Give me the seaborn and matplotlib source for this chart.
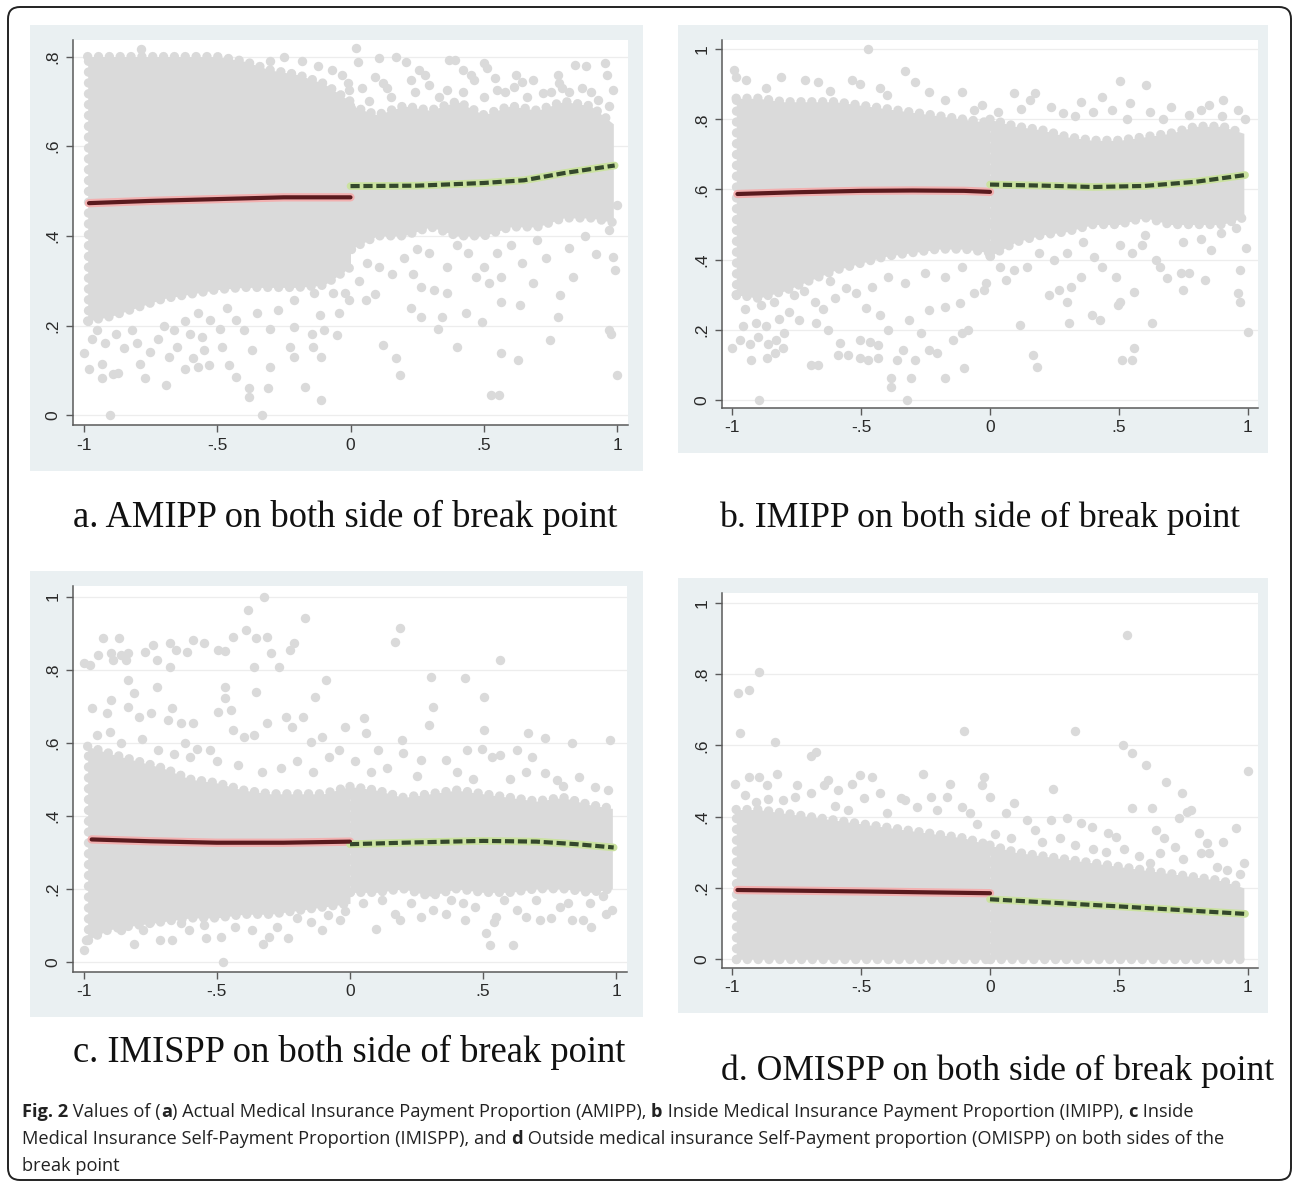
import matplotlib
matplotlib.use("Agg")
import matplotlib.pyplot as plt
import matplotlib.transforms as mtransforms
from matplotlib.patches import Rectangle, FancyBboxPatch
import numpy as np
import pandas as pd
import seaborn as sns

# ---------------------------------------------------------------- data
X_TICKS = [-1, -0.5, 0, 0.5, 1]
X_TICK_LABELS = ["-1", "-.5", "0", ".5", "1"]
Y_TICKS_A = [0, 0.2, 0.4, 0.6, 0.8]
Y_TICK_LABELS_A = ["0", ".2", ".4", ".6", ".8"]
Y_TICKS_BCD = [0, 0.2, 0.4, 0.6, 0.8, 1.0]
Y_TICK_LABELS_BCD = ["0", ".2", ".4", ".6", ".8", "1"]

LEFT_KNOTS = [-0.985, -0.9, -0.8, -0.7, -0.6, -0.5, -0.4, -0.3, -0.2, -0.1, 0.0]
RIGHT_KNOTS = [0.0, 0.1, 0.2, 0.3, 0.4, 0.5, 0.6, 0.7, 0.8, 0.9, 0.985]

# dense cloud envelopes (upper / lower edge of the solid mass of points)
A_LEFT_UP = [0.80, 0.80, 0.80, 0.80, 0.80, 0.80, 0.79, 0.77, 0.76, 0.74, 0.70]
A_LEFT_LO = [0.21, 0.22, 0.24, 0.26, 0.27, 0.28, 0.285, 0.285, 0.285, 0.29, 0.33]
A_RIGHT_UP = [0.69, 0.67, 0.69, 0.68, 0.70, 0.67, 0.69, 0.68, 0.70, 0.69, 0.65]
A_RIGHT_LO = [0.37, 0.40, 0.40, 0.42, 0.40, 0.40, 0.42, 0.42, 0.44, 0.44, 0.43]

B_LEFT_UP = [0.86, 0.86, 0.85, 0.85, 0.85, 0.84, 0.83, 0.82, 0.81, 0.80, 0.79]
B_LEFT_LO = [0.30, 0.29, 0.31, 0.34, 0.37, 0.39, 0.41, 0.42, 0.43, 0.43, 0.42]
B_RIGHT_UP = [0.80, 0.78, 0.77, 0.75, 0.74, 0.74, 0.75, 0.76, 0.78, 0.78, 0.76]
B_RIGHT_LO = [0.41, 0.45, 0.47, 0.48, 0.50, 0.50, 0.52, 0.50, 0.50, 0.50, 0.52]

C_LEFT_UP = [0.59, 0.57, 0.55, 0.53, 0.50, 0.49, 0.47, 0.46, 0.46, 0.46, 0.48]
C_LEFT_LO = [0.06, 0.09, 0.10, 0.11, 0.12, 0.12, 0.13, 0.13, 0.14, 0.15, 0.16]
C_RIGHT_UP = [0.48, 0.47, 0.45, 0.46, 0.47, 0.46, 0.45, 0.44, 0.45, 0.43, 0.42]
C_RIGHT_LO = [0.19, 0.19, 0.20, 0.18, 0.20, 0.19, 0.19, 0.20, 0.20, 0.19, 0.20]

D_LEFT_UP = [0.42, 0.42, 0.41, 0.40, 0.39, 0.38, 0.37, 0.36, 0.35, 0.34, 0.32]
D_LEFT_LO = [0.0] * 11
D_RIGHT_UP = [0.32, 0.30, 0.29, 0.28, 0.27, 0.26, 0.25, 0.24, 0.23, 0.22, 0.20]
D_RIGHT_LO = [0.0] * 11

# individual points outside the dense mass (x, y)
A_POINTS = [
    (-0.90, 0.00), (-0.33, 0.00), (-0.11, 0.033), (-0.38, 0.041), (-0.38, 0.06), (-0.31, 0.06),
    (-0.17, 0.062), (-0.69, 0.067), (-0.77, 0.083), (-0.93, 0.082), (-0.89, 0.092), (-0.87, 0.093),
    (-0.98, 0.104), (-1.0, 0.139), (-0.93, 0.115), (-0.62, 0.104), (-0.57, 0.108), (-0.53, 0.112),
    (-0.455, 0.112), (-0.43, 0.086), (-0.30, 0.108), (-0.21, 0.13), (-0.11, 0.13), (-0.14, 0.153),
    (-0.225, 0.153), (-0.37, 0.145), (-0.48, 0.153), (-0.68, 0.13), (-0.79, 0.115), (-0.65, 0.153),
    (-0.59, 0.127), (-0.55, 0.145), (-0.05, 0.179), (-0.10, 0.19), (-0.146, 0.182), (-0.21, 0.197),
    (-0.30, 0.193), (-0.40, 0.19), (-0.43, 0.212), (-0.49, 0.193), (-0.35, 0.227), (-0.27, 0.234),
    (-0.21, 0.257), (-0.115, 0.223), (-0.043, 0.227), (-0.004, 0.257), (-0.02, 0.272), (-0.067, 0.272),
    (-0.138, 0.272), (-0.557, 0.175), (-0.526, 0.212), (-0.462, 0.238), (-0.573, 0.227),
    (-0.97, 0.17), (-0.92, 0.16), (-0.85, 0.15), (-0.80, 0.16), (-0.75, 0.14), (-0.72, 0.17),
    (-0.95, 0.19), (-0.88, 0.18), (-0.82, 0.19), (-0.70, 0.20), (-0.66, 0.19), (-0.62, 0.21), (-0.60, 0.18),
    (0.123, 0.156), (0.17, 0.127), (0.186, 0.089), (0.526, 0.045), (0.557, 0.046), (0.565, 0.139),
    (0.628, 0.124), (0.747, 0.167), (0.779, 0.22), (1.0, 0.089), (0.968, 0.19), (0.976, 0.182),
    (0.328, 0.193), (0.40, 0.153), (0.431, 0.227), (0.494, 0.208), (0.344, 0.22), (0.225, 0.238),
    (0.265, 0.22), (0.565, 0.253), (0.636, 0.246), (0.684, 0.294), (0.787, 0.268), (0.834, 0.309),
    (0.984, 0.353), (0.992, 0.324), (0.968, 0.413), (1.0, 0.469), (0.644, 0.339), (0.731, 0.35),
    (0.818, 0.372), (0.502, 0.331), (0.549, 0.361), (0.439, 0.361), (0.36, 0.331), (0.296, 0.361),
    (0.233, 0.316), (0.154, 0.316), (0.107, 0.331), (0.059, 0.257), (0.265, 0.287), (0.312, 0.279),
    (0.36, 0.272), (0.47, 0.309), (0.518, 0.294), (0.565, 0.309), (0.091, 0.27), (0.03, 0.30),
    (0.06, 0.34), (0.20, 0.35), (0.25, 0.37), (0.40, 0.38), (0.60, 0.38), (0.70, 0.39), (0.88, 0.40),
    (0.92, 0.36),
    (0.02, 0.819), (0.028, 0.789), (0.107, 0.796), (0.17, 0.80), (0.209, 0.789), (0.257, 0.770),
    (0.225, 0.748), (0.368, 0.793), (0.391, 0.793), (0.423, 0.770), (0.502, 0.785), (0.51, 0.774),
    (0.542, 0.752), (0.462, 0.748), (0.644, 0.744), (0.684, 0.748), (0.779, 0.759), (0.842, 0.781),
    (0.881, 0.779), (0.953, 0.785), (0.960, 0.759), (0.866, 0.729), (0.929, 0.703), (0.984, 0.726),
    (0.723, 0.718), (0.794, 0.729), (0.296, 0.737), (0.36, 0.726), (0.549, 0.726), (0.613, 0.733),
    (0.091, 0.755), (0.138, 0.729), (0.043, 0.729), (-0.004, 0.726), (0.07, 0.70), (0.15, 0.71),
    (0.24, 0.72), (0.33, 0.71), (0.42, 0.72), (0.50, 0.71), (0.58, 0.72), (0.66, 0.71), (0.75, 0.72),
    (0.82, 0.72), (0.90, 0.72), (0.97, 0.69), (0.12, 0.74), (0.28, 0.76), (0.45, 0.76), (0.62, 0.76),
    (0.78, 0.74), (-0.787, 0.816), (-0.30, 0.79), (-0.25, 0.80), (-0.18, 0.79), (-0.12, 0.78),
    (-0.07, 0.77), (-0.03, 0.76), (-0.01, 0.74),
]

B_POINTS = [
    (-0.472, 1.0), (-0.992, 0.94), (-0.984, 0.921), (-0.945, 0.912), (-0.811, 0.921), (-0.331, 0.937),
    (-0.535, 0.912), (-0.504, 0.902), (-0.717, 0.912), (-0.669, 0.907), (-0.425, 0.888), (-0.291, 0.907),
    (-0.236, 0.878), (-0.11, 0.878), (-0.173, 0.855), (-0.031, 0.84), (-0.063, 0.826), (0.504, 0.909),
    (0.606, 0.899), (0.094, 0.876), (0.173, 0.874), (0.157, 0.855), (0.354, 0.85), (0.433, 0.864),
    (0.543, 0.845), (0.472, 0.826), (0.701, 0.836), (0.906, 0.855), (0.85, 0.84), (0.819, 0.826),
    (0.772, 0.812), (0.961, 0.826), (0.236, 0.836), (0.283, 0.817), (-0.87, 0.89), (-0.62, 0.88),
    (-0.40, 0.87), (0.03, 0.82), (0.12, 0.83), (0.33, 0.81), (0.40, 0.82), (0.62, 0.82), (0.67, 0.80),
    (0.90, 0.81), (0.99, 0.80), (0.53, 0.80),
    (-0.898, 0.0), (-0.323, 0.0), (-0.386, 0.038), (-0.386, 0.062), (-0.307, 0.062), (-0.173, 0.062),
    (-0.102, 0.09), (-0.929, 0.114), (-0.866, 0.119), (-0.835, 0.133), (-0.803, 0.147), (-1.0, 0.147),
    (-0.693, 0.10), (-0.669, 0.10), (-0.591, 0.128), (-0.551, 0.128), (-0.504, 0.119), (-0.472, 0.114),
    (-0.433, 0.119), (-0.583, 0.161), (-0.504, 0.171), (-0.465, 0.166), (-0.433, 0.157), (-0.362, 0.114),
    (-0.339, 0.142), (-0.291, 0.114), (-0.236, 0.142), (-0.205, 0.133), (-0.142, 0.171), (-0.11, 0.19),
    (-0.087, 0.199), (-0.268, 0.19), (-0.394, 0.199), (-0.425, 0.242), (-0.48, 0.261), (-0.315, 0.228),
    (-0.236, 0.256), (-0.173, 0.266), (-0.118, 0.275), (-0.063, 0.304), (-0.024, 0.313), (-0.016, 0.332),
    (-0.63, 0.199), (-0.677, 0.218), (-0.74, 0.228), (-0.52, 0.304), (-0.457, 0.323), (-0.394, 0.351),
    (-0.331, 0.332), (-0.252, 0.361), (-0.173, 0.351), (-0.11, 0.38),
    (-0.97, 0.17), (-0.93, 0.16), (-0.90, 0.18), (-0.86, 0.16), (-0.83, 0.17), (-0.80, 0.19),
    (-0.96, 0.21), (-0.91, 0.22), (-0.87, 0.21), (-0.82, 0.23), (-0.78, 0.25), (-0.95, 0.26),
    (-0.89, 0.27), (-0.84, 0.28), (-0.76, 0.30), (-0.72, 0.31), (-0.68, 0.28), (-0.65, 0.26),
    (-0.60, 0.29), (-0.56, 0.32), (-0.62, 0.34),
    (0.118, 0.214), (0.165, 0.128), (0.181, 0.095), (0.512, 0.114), (0.551, 0.114), (0.559, 0.147),
    (0.63, 0.218), (0.307, 0.218), (0.394, 0.242), (0.425, 0.228), (0.496, 0.271), (0.504, 0.28),
    (0.559, 0.309), (0.228, 0.299), (0.268, 0.313), (0.299, 0.28), (0.315, 0.323), (0.354, 0.351),
    (0.402, 0.408), (0.433, 0.38), (0.488, 0.351), (0.748, 0.313), (0.74, 0.361), (0.772, 0.361),
    (0.835, 0.342), (0.961, 0.304), (0.969, 0.28), (1.0, 0.195), (0.992, 0.432), (0.969, 0.37),
    (0.661, 0.38), (0.685, 0.347), (0.646, 0.399), (0.551, 0.418), (0.591, 0.442), (0.504, 0.442),
    (0.858, 0.427), (0.898, 0.475), (0.953, 0.489), (0.142, 0.38), (0.189, 0.418), (0.063, 0.342),
    (0.039, 0.38), (0.094, 0.37), (0.25, 0.40), (0.30, 0.42), (0.36, 0.45), (0.60, 0.47), (0.75, 0.45),
    (0.82, 0.46),
]

C_POINTS = [
    (-0.323, 1.0), (-0.383, 0.963), (-0.17, 0.941), (-0.391, 0.909), (-0.352, 0.886), (-0.312, 0.890),
    (-0.929, 0.886), (-0.866, 0.886), (-0.676, 0.872), (-0.589, 0.881), (-0.549, 0.872), (-0.439, 0.890),
    (-0.209, 0.872), (-0.225, 0.854), (-0.296, 0.845), (-0.494, 0.854), (-0.470, 0.852), (-0.652, 0.854),
    (-0.613, 0.849), (-0.74, 0.868), (-0.771, 0.849), (-0.897, 0.845), (-0.858, 0.840), (-0.834, 0.845),
    (-0.889, 0.826), (-0.842, 0.826), (-1.0, 0.817), (-0.976, 0.813), (-0.945, 0.840), (-0.676, 0.808),
    (-0.723, 0.826), (-0.36, 0.808), (-0.265, 0.808), (-0.09, 0.772), (-0.723, 0.753), (-0.47, 0.753),
    (-0.47, 0.721), (-0.352, 0.738), (-0.13, 0.726), (-0.834, 0.772), (-0.81, 0.735), (-0.897, 0.717),
    (-0.913, 0.680), (-0.968, 0.694), (-0.834, 0.699), (-0.494, 0.685), (-0.447, 0.689), (-0.241, 0.671),
    (-0.178, 0.671), (-0.217, 0.644), (-0.312, 0.653), (-0.439, 0.635), (-0.399, 0.616), (-0.36, 0.621),
    (-0.668, 0.694), (-0.684, 0.662), (-0.636, 0.653), (-0.589, 0.653), (-0.747, 0.680), (-0.794, 0.671),
    (-0.020, 0.644), (-0.107, 0.616), (-0.146, 0.603), (-0.573, 0.584), (-0.526, 0.580), (-0.621, 0.598),
    (-0.95, 0.62), (-0.90, 0.63), (-0.86, 0.60), (-0.78, 0.61), (-0.72, 0.58), (-0.66, 0.57),
    (-0.60, 0.56), (-0.50, 0.55), (-0.42, 0.54), (-0.33, 0.52), (-0.26, 0.53), (-0.20, 0.55),
    (-0.14, 0.52), (-0.08, 0.56), (-0.04, 0.58),
    (0.17, 0.877), (0.186, 0.913), (0.565, 0.826), (0.304, 0.781), (0.431, 0.776), (0.312, 0.699),
    (0.296, 0.648), (0.502, 0.726), (0.051, 0.667), (0.059, 0.626), (0.194, 0.607), (0.502, 0.635),
    (0.668, 0.626), (0.731, 0.612), (0.684, 0.562), (0.834, 0.598), (0.976, 0.607), (0.439, 0.580),
    (0.494, 0.584), (0.534, 0.562), (0.565, 0.566), (0.107, 0.580), (0.20, 0.571), (0.265, 0.553),
    (0.36, 0.553), (0.628, 0.580), (0.731, 0.516), (0.779, 0.498), (0.858, 0.507), (0.92, 0.479),
    (0.02, 0.55), (0.08, 0.52), (0.14, 0.53), (0.25, 0.51), (0.40, 0.52), (0.46, 0.50), (0.60, 0.50),
    (0.66, 0.52), (0.80, 0.48), (0.97, 0.47),
    (-0.478, 0.0), (-0.328, 0.05), (-0.304, 0.068), (-0.233, 0.064), (-0.715, 0.059), (-0.668, 0.059),
    (-0.81, 0.05), (-1.0, 0.032), (-0.992, 0.059), (-0.541, 0.064), (-0.486, 0.068), (-0.107, 0.087),
    (-0.036, 0.114), (-0.083, 0.128), (-0.146, 0.110), (-0.431, 0.096), (-0.368, 0.087), (-0.273, 0.096),
    (-0.605, 0.087), (-0.636, 0.105), (-0.779, 0.087), (-0.858, 0.087), (-0.95, 0.08), (-0.90, 0.10),
    (-0.75, 0.11), (-0.55, 0.10), (-0.20, 0.12), (-0.02, 0.14),
    (0.526, 0.046), (0.613, 0.046), (0.51, 0.078), (0.431, 0.114), (0.099, 0.091), (0.186, 0.114),
    (0.17, 0.132), (0.542, 0.110), (0.549, 0.123), (0.715, 0.114), (0.755, 0.119), (0.834, 0.114),
    (0.873, 0.114), (0.905, 0.096), (0.960, 0.132), (0.984, 0.142), (0.265, 0.123), (0.312, 0.142),
    (0.360, 0.132), (0.628, 0.142), (0.66, 0.123), (0.47, 0.151), (0.423, 0.160), (0.787, 0.151),
    (0.818, 0.160), (0.05, 0.16), (0.12, 0.17), (0.23, 0.16), (0.38, 0.17), (0.58, 0.17), (0.70, 0.17),
    (0.90, 0.16), (0.95, 0.18),
]

D_POINTS = [
    (0.531, 0.909), (-0.898, 0.807), (-0.976, 0.746), (-0.937, 0.755), (-0.969, 0.636), (-0.835, 0.61),
    (-0.102, 0.641), (0.328, 0.641), (0.515, 0.601), (0.551, 0.578), (0.606, 0.545), (0.682, 0.498),
    (0.745, 0.467), (1.0, 0.529), (-0.693, 0.570), (-0.677, 0.581),
    (-0.99, 0.493), (-0.937, 0.512), (-0.898, 0.512), (-0.827, 0.521), (-0.748, 0.489), (-0.866, 0.489),
    (-0.63, 0.503), (-0.646, 0.489), (-0.591, 0.475), (-0.535, 0.493), (-0.504, 0.517), (-0.457, 0.512),
    (-0.488, 0.451), (-0.425, 0.465), (-0.346, 0.451), (-0.26, 0.521), (-0.157, 0.493), (-0.228, 0.454),
    (-0.165, 0.454), (-0.024, 0.512), (-0.031, 0.489), (0.0, 0.456), (0.094, 0.437), (0.244, 0.479),
    (0.551, 0.423), (0.63, 0.423), (0.764, 0.414), (0.78, 0.419), (0.732, 0.395), (0.811, 0.353),
    (0.843, 0.325), (0.906, 0.330), (0.953, 0.367), (0.819, 0.297), (0.850, 0.297), (0.488, 0.344),
    (0.457, 0.353), (0.646, 0.363), (0.677, 0.339), (0.717, 0.316), (0.661, 0.297), (0.236, 0.391),
    (0.299, 0.395), (0.354, 0.381), (0.394, 0.372), (0.063, 0.409), (0.173, 0.363), (0.142, 0.391),
    (-0.331, 0.447), (-0.283, 0.428), (-0.205, 0.419), (-0.110, 0.428), (-0.079, 0.409), (-0.693, 0.465),
    (-0.756, 0.456), (-0.803, 0.447), (-0.95, 0.46), (-0.91, 0.44), (-0.86, 0.45), (-0.60, 0.43),
    (-0.55, 0.42), (-0.40, 0.41), (-0.05, 0.38), (0.02, 0.35), (0.08, 0.34), (0.20, 0.33), (0.27, 0.34),
    (0.33, 0.32), (0.40, 0.31), (0.45, 0.30), (0.52, 0.31), (0.58, 0.29), (0.62, 0.27), (0.75, 0.28),
    (0.88, 0.26), (0.92, 0.25), (0.97, 0.24), (0.985, 0.27),
]

# fitted lines: left of break point (solid) and right (dashed)
A_FIT_LEFT_X = [-0.98, -0.75, -0.5, -0.25, 0.0]
A_FIT_LEFT_Y = [0.473, 0.478, 0.482, 0.486, 0.486]
A_FIT_RIGHT_X = [0.0, 0.25, 0.5, 0.65, 0.8, 0.99]
A_FIT_RIGHT_Y = [0.511, 0.512, 0.518, 0.524, 0.540, 0.557]

B_FIT_LEFT_X = [-0.98, -0.75, -0.5, -0.3, -0.1, 0.0]
B_FIT_LEFT_Y = [0.587, 0.592, 0.596, 0.597, 0.596, 0.593]
B_FIT_RIGHT_X = [0.0, 0.2, 0.4, 0.6, 0.8, 0.99]
B_FIT_RIGHT_Y = [0.614, 0.611, 0.607, 0.610, 0.622, 0.641]

C_FIT_LEFT_X = [-0.97, -0.75, -0.5, -0.25, 0.0]
C_FIT_LEFT_Y = [0.335, 0.330, 0.326, 0.326, 0.329]
C_FIT_RIGHT_X = [0.0, 0.25, 0.5, 0.7, 0.85, 0.99]
C_FIT_RIGHT_Y = [0.322, 0.327, 0.331, 0.329, 0.322, 0.313]

D_FIT_LEFT_X = [-0.98, -0.5, 0.0]
D_FIT_LEFT_Y = [0.194, 0.190, 0.185]
D_FIT_RIGHT_X = [0.0, 0.5, 0.99]
D_FIT_RIGHT_Y = [0.168, 0.148, 0.127]

PANEL_CAPTIONS = [
    "a. AMIPP on both side of break point",
    "b. IMIPP on both side of break point",
    "c. IMISPP on both side of break point",
    "d. OMISPP on both side of break point",
]

FIG_CAPTION_LINES = [
    [("Fig. 2", "bold"), (" Values of (", "normal"), ("a", "bold"),
     (") Actual Medical Insurance Payment Proportion (AMIPP), ", "normal"), ("b", "bold"),
     (" Inside Medical Insurance Payment Proportion (IMIPP), ", "normal"), ("c", "bold"),
     (" Inside", "normal")],
    [("Medical Insurance Self-Payment Proportion (IMISPP), and ", "normal"), ("d", "bold"),
     (" Outside medical insurance Self-Payment proportion (OMISPP) on both sides of the", "normal")],
    [("break point", "normal")],
]

# ---------------------------------------------------------------- style
sns.set_theme(style="white")
plt.rcParams["font.family"] = ["Liberation Sans", "DejaVu Sans"]

W, H = 1293, 1183
DOT = "#DADADA"
PANEL_BG = "#EAF0F2"
RED_CORE, RED_HALO = "#5A1A1E", "#F2B0B0"
GRN_CORE, GRN_HALO = "#34482C", "#CBE2A0"
DOT_S = 46           # marker area (pt^2)
DOT_D = DOT_S ** 0.5  # marker diameter (pt)

fig = plt.figure(figsize=(W / 100, H / 100), dpi=100)
fig.patch.set_facecolor("white")
pix = mtransforms.Affine2D().scale(1.0 / W, 1.0 / H) + fig.transFigure  # pixels, y up


def box(x0, y0, x1, y1):
    """pixel box given with y measured downward from the top"""
    return x0, H - y1, x1 - x0, y1 - y0


# outer rounded frame
fx, fy, fw, fh = box(8, 7, 1291, 1180)
fig.add_artist(FancyBboxPatch((fx, fy), fw, fh, boxstyle="round,pad=0,rounding_size=12",
                              transform=pix, fill=False, ec="#222222", lw=1.4))

panels = [
    dict(bg=(30, 25, 643, 471), ax=(73, 40, 628, 425), ylim=(-0.022, 0.837),
         yt=Y_TICKS_A, ytl=Y_TICK_LABELS_A,
         env=(A_LEFT_UP, A_LEFT_LO, A_RIGHT_UP, A_RIGHT_LO), pts=A_POINTS,
         fit=(A_FIT_LEFT_X, A_FIT_LEFT_Y, A_FIT_RIGHT_X, A_FIT_RIGHT_Y)),
    dict(bg=(678, 25, 1268, 453), ax=(722, 40, 1258, 408), ylim=(-0.023, 1.026),
         yt=Y_TICKS_BCD, ytl=Y_TICK_LABELS_BCD,
         env=(B_LEFT_UP, B_LEFT_LO, B_RIGHT_UP, B_RIGHT_LO), pts=B_POINTS,
         fit=(B_FIT_LEFT_X, B_FIT_LEFT_Y, B_FIT_RIGHT_X, B_FIT_RIGHT_Y)),
    dict(bg=(30, 571, 643, 1017), ax=(73, 586, 627, 972), ylim=(-0.028, 1.029),
         yt=Y_TICKS_BCD, ytl=Y_TICK_LABELS_BCD,
         env=(C_LEFT_UP, C_LEFT_LO, C_RIGHT_UP, C_RIGHT_LO), pts=C_POINTS,
         fit=(C_FIT_LEFT_X, C_FIT_LEFT_Y, C_FIT_RIGHT_X, C_FIT_RIGHT_Y)),
    dict(bg=(678, 578, 1268, 1013), ax=(722, 593, 1258, 968), ylim=(-0.025, 1.028),
         yt=Y_TICKS_BCD, ytl=Y_TICK_LABELS_BCD,
         env=(D_LEFT_UP, D_LEFT_LO, D_RIGHT_UP, D_RIGHT_LO), pts=D_POINTS,
         fit=(D_FIT_LEFT_X, D_FIT_LEFT_Y, D_FIT_RIGHT_X, D_FIT_RIGHT_Y)),
]

for p in panels:
    bx, by, bw, bh = box(*p["bg"])
    fig.add_artist(Rectangle((bx, by), bw, bh, transform=pix, fc=PANEL_BG, ec="none", zorder=0))
    l, t, r, b = p["ax"]
    ax = fig.add_axes([l / W, 1 - b / H, (r - l) / W, (b - t) / H])
    ax.set_facecolor("white")
    ax.set_xlim(-1.04, 1.04)
    ax.set_ylim(*p["ylim"])
    ax.set_axisbelow(True)
    ax.yaxis.grid(True, color="#EDEDED", lw=0.9)
    ax.xaxis.grid(False)

    lu, ll, ru, rl = p["env"]
    for knots, lo, up in ((LEFT_KNOTS, ll, lu), (RIGHT_KNOTS, rl, ru)):
        ax.fill_between(knots, lo, up, color=DOT, lw=0, zorder=1)
        # scalloped edges: a row of touching dots along each edge of the dense mass
        for edge in (up, lo):
            ax.plot(knots, edge, color=DOT, lw=DOT_D, linestyle=(0, (0.001, 1.15)),
                    dash_capstyle="round", zorder=1)
        ax.plot([knots[0], knots[0]], [lo[0], up[0]], color=DOT, lw=DOT_D,
                linestyle=(0, (0.001, 1.15)), dash_capstyle="round", zorder=1)

    pts = pd.DataFrame(p["pts"], columns=["x", "y"])
    sns.scatterplot(data=pts, x="x", y="y", ax=ax, color=DOT, s=DOT_S, linewidth=0, zorder=2)

    flx, fly, frx, fry = p["fit"]
    left = pd.DataFrame({"x": flx, "y": fly})
    right = pd.DataFrame({"x": frx, "y": fry})
    sns.lineplot(data=left, x="x", y="y", ax=ax, color=RED_HALO, lw=6.0, zorder=4)
    sns.lineplot(data=left, x="x", y="y", ax=ax, color=RED_CORE, lw=3.0, zorder=5)
    sns.lineplot(data=right, x="x", y="y", ax=ax, color=GRN_HALO, lw=5.5, zorder=4)
    sns.lineplot(data=right, x="x", y="y", ax=ax, color=GRN_CORE, lw=3.0, zorder=5,
                 linestyle=(0, (2.2, 0.9)))

    ax.set_xlabel("")
    ax.set_ylabel("")
    ax.set_xticks(X_TICKS)
    ax.set_xticklabels(X_TICK_LABELS)
    ax.set_yticks(p["yt"])
    ax.set_yticklabels(p["ytl"], rotation=90, va="center")
    for s in ("top", "right"):
        ax.spines[s].set_visible(False)
    for s in ("left", "bottom"):
        ax.spines[s].set_color("#5A5A5A")
        ax.spines[s].set_linewidth(1.1)
        ax.spines[s].set_zorder(6)
    ax.tick_params(axis="both", which="major", direction="out", length=5, width=1.0,
                   color="#5A5A5A", labelsize=12.5, labelcolor="#2A2A2A", pad=4,
                   bottom=True, left=True)

# ---------------------------------------------------------------- text
renderer = fig.canvas.get_renderer()


def run_width(s, size, weight, family):
    t = fig.text(0, 0, s + "|", fontsize=size, fontweight=weight, family=family)
    w1 = t.get_window_extent(renderer).width
    t.set_text("|")
    w2 = t.get_window_extent(renderer).width
    t.remove()
    return w1 - w2


SERIF = ["Liberation Serif", "DejaVu Serif"]
cap_pos = [(345, 527, 544), (980, 527, 520), (349, 1062, 552), (998, 1080, 553)]
for txt, (cx, cy, target) in zip(PANEL_CAPTIONS, cap_pos):
    w = run_width(txt, 26, "normal", SERIF)
    size = 26 * target / w
    fig.text(cx / W, 1 - cy / H, txt, fontsize=size, family=SERIF, ha="center",
             va="baseline", color="#111111")

SANS = ["Open Sans", "DejaVu Sans"]
line1_w = sum(run_width(s, 12, wt, SANS) for s, wt in FIG_CAPTION_LINES[0])
cap_size = 12 * 1168 / line1_w
baselines = [1117, 1144, 1171]
for runs, yb in zip(FIG_CAPTION_LINES, baselines):
    x = 22.0
    for s, wt in runs:
        fig.text(x / W, 1 - yb / H, s, fontsize=cap_size, fontweight=wt, family=SANS,
                 ha="left", va="baseline", color="#222222")
        x += run_width(s, cap_size, wt, SANS)

fig.savefig("out.png", dpi=100)
